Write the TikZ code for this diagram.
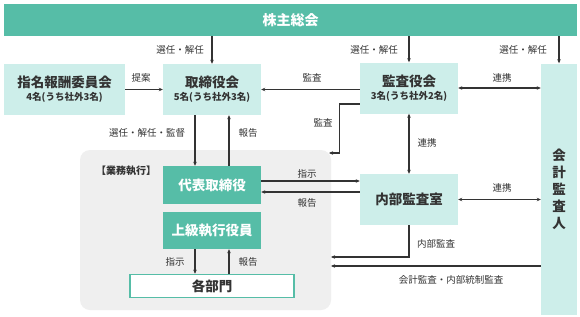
\documentclass[tikz,border=0pt]{standalone}
\usepackage{fontspec}
\setmainfont{Noto Sans CJK JP}
\usetikzlibrary{arrows.meta,calc}
\definecolor{teal1}{HTML}{56BDA7}
\definecolor{teal2}{HTML}{CDEEEA}
\definecolor{gray1}{HTML}{EFEFEF}
\definecolor{ink}{HTML}{333333}
\tikzset{
  lightbox/.style={fill=teal2, draw=none, text=ink, align=center, inner sep=0pt},
  darkbox/.style={fill=teal1, draw=none, text=white, align=center, inner sep=0pt, font=\fontsize{13}{15}\selectfont\bfseries},
  lbl/.style={text=ink, font=\fontsize{9.5}{11}\selectfont, inner sep=1pt},
  arr/.style={draw=ink, line width=1.2pt, -{Stealth[length=4pt,width=3.5pt]}},
  darr/.style={draw=ink, line width=1.2pt, {Stealth[length=4pt,width=3.5pt]}-{Stealth[length=4pt,width=3.5pt]}},
}
\begin{document}
\begin{tikzpicture}[x=1pt,y=-1pt]
\useasboundingbox (0,0) rectangle (580,316);
\fill[white] (0,0) rectangle (580,316);
% gray region
\node[fill=gray1, rounded corners=10pt, minimum width=251pt, minimum height=160pt, inner sep=0pt] (gyomu) at (205.5,230) {};
\node[lbl, font=\fontsize{10}{12}\selectfont\bfseries, anchor=center] (gyomulbl) at (126,171) {【業務執行】};
% header
\node[darkbox, minimum width=573pt, minimum height=32pt, font=\fontsize{14}{16}\selectfont\bfseries] (kabu) at (290.5,20) {株主総会};
% boxes
\node[lightbox, minimum width=121pt, minimum height=51pt] (shimei) at (64.5,89.5) {{\fontsize{13.5}{15}\selectfont\bfseries 指名報酬委員会}\\[1pt]{\fontsize{9.5}{11}\selectfont\bfseries 4名(うち社外3名)}};
\node[lightbox, minimum width=98pt, minimum height=51pt] (tori) at (212,89.5) {{\fontsize{13.5}{15}\selectfont\bfseries 取締役会}\\[1pt]{\fontsize{9.5}{11}\selectfont\bfseries 5名(うち社外3名)}};
\node[lightbox, minimum width=98pt, minimum height=51pt] (kansa) at (409,88) {{\fontsize{13.5}{15}\selectfont\bfseries 監査役会}\\[1pt]{\fontsize{9.5}{11}\selectfont\bfseries 3名(うち社外2名)}};
\node[lightbox, minimum width=36pt, minimum height=251pt, font=\fontsize{13.5}{17}\selectfont\bfseries] (kaikei) at (559,189) {会\\計\\監\\査\\人};
\node[darkbox, minimum width=98pt, minimum height=38pt, font=\fontsize{13.5}{15}\selectfont\bfseries] (daihyo) at (212,185) {代表取締役};
\node[darkbox, minimum width=98pt, minimum height=37pt, font=\fontsize{13.5}{15}\selectfont\bfseries] (joukyu) at (212,230.5) {上級執行役員};
\node[fill=white, draw=teal1, line width=1.5pt, minimum width=164pt, minimum height=23pt, inner sep=0pt, text=ink, font=\fontsize{13.5}{15}\selectfont\bfseries] (bumon) at (212,286) {各部門};
\node[lightbox, minimum width=98pt, minimum height=51pt, font=\fontsize{13.5}{15}\selectfont\bfseries] (naibu) at (409,199.5) {内部監査室};
% connectors from header
\draw[arr] (kabu.south -| tori.north) -- (tori.north);
\draw[arr] (kabu.south -| kansa.north) -- (kansa.north);
\draw[arr] (kabu.south -| kaikei.north) -- (kaikei.north);
\node[lbl] (l1) at (180,50) {選任・解任};
\node[lbl] (l2) at (374,50) {選任・解任};
\node[lbl] (l3) at (523,50) {選任・解任};
% row 1
\draw[arr] (shimei.east) -- (tori.west);
\node[lbl] (l4) at (141,78) {提案};
\coordinate (k0) at ([yshift=-1.5pt]kansa.west);
\draw[arr] (k0) -- (k0 -| tori.east);
\node[lbl] (l5) at (312,78) {監査};
\draw[darr] (kansa.east) -- (kansa.east -| kaikei.west);
\node[lbl] (l6) at (502,78) {連携};
% kansa elbow
\coordinate (kA) at (329,153);
\draw[arr] ($(kansa.west)+(0,16)$) -- ++(-20,0) |- (kA);
\node[lbl] (l7) at (323,123) {監査};
\draw[darr] (kansa.south) -- (naibu.north);
\node[lbl] (l8) at (427,143) {連携};
% tori <-> daihyo
\draw[arr] ($(tori.south)+(-17,0)$) -- ($(daihyo.north)+(-17,0)$);
\draw[arr] ($(daihyo.north)+(17,0)$) -- ($(tori.south)+(17,0)$);
\node[lbl] (l9) at (147,133) {選任・解任・監督};
\node[lbl] (l10) at (248,133) {報告};
% daihyo <-> naibu
\coordinate (d1) at ([yshift=4pt]daihyo.east);
\coordinate (d2) at ([yshift=-7pt]daihyo.east);
\draw[arr] (d1) -- (d1 -| naibu.west);
\draw[arr] (d2 -| naibu.west) -- (d2);
\node[lbl] (l11) at (307,174) {指示};
\node[lbl] (l12) at (307,203) {報告};
\draw[darr] (naibu.east) -- (naibu.east -| kaikei.west);
\node[lbl] (l13) at (502,188) {連携};
% internal audit
\coordinate (ia) at (331,257);
\draw[arr] (naibu.south) |- (ia);
\node[lbl] (l14) at (436,244) {内部監査};
\coordinate (ka) at (331,266);
\draw[arr] (kaikei.west |- ka) -- (ka);
\node[lbl] (l15) at (451,280) {会計監査・内部統制監査};
% joukyu <-> bumon
\draw[arr] ($(joukyu.south)+(-17,0)$) -- ($(bumon.north)+(-17,0)$);
\draw[arr] ($(bumon.north)+(17,0)$) -- ($(joukyu.south)+(17,0)$);
\node[lbl] (l16) at (175,262) {指示};
\node[lbl] (l17) at (248,262) {報告};
\end{tikzpicture}
\end{document}
